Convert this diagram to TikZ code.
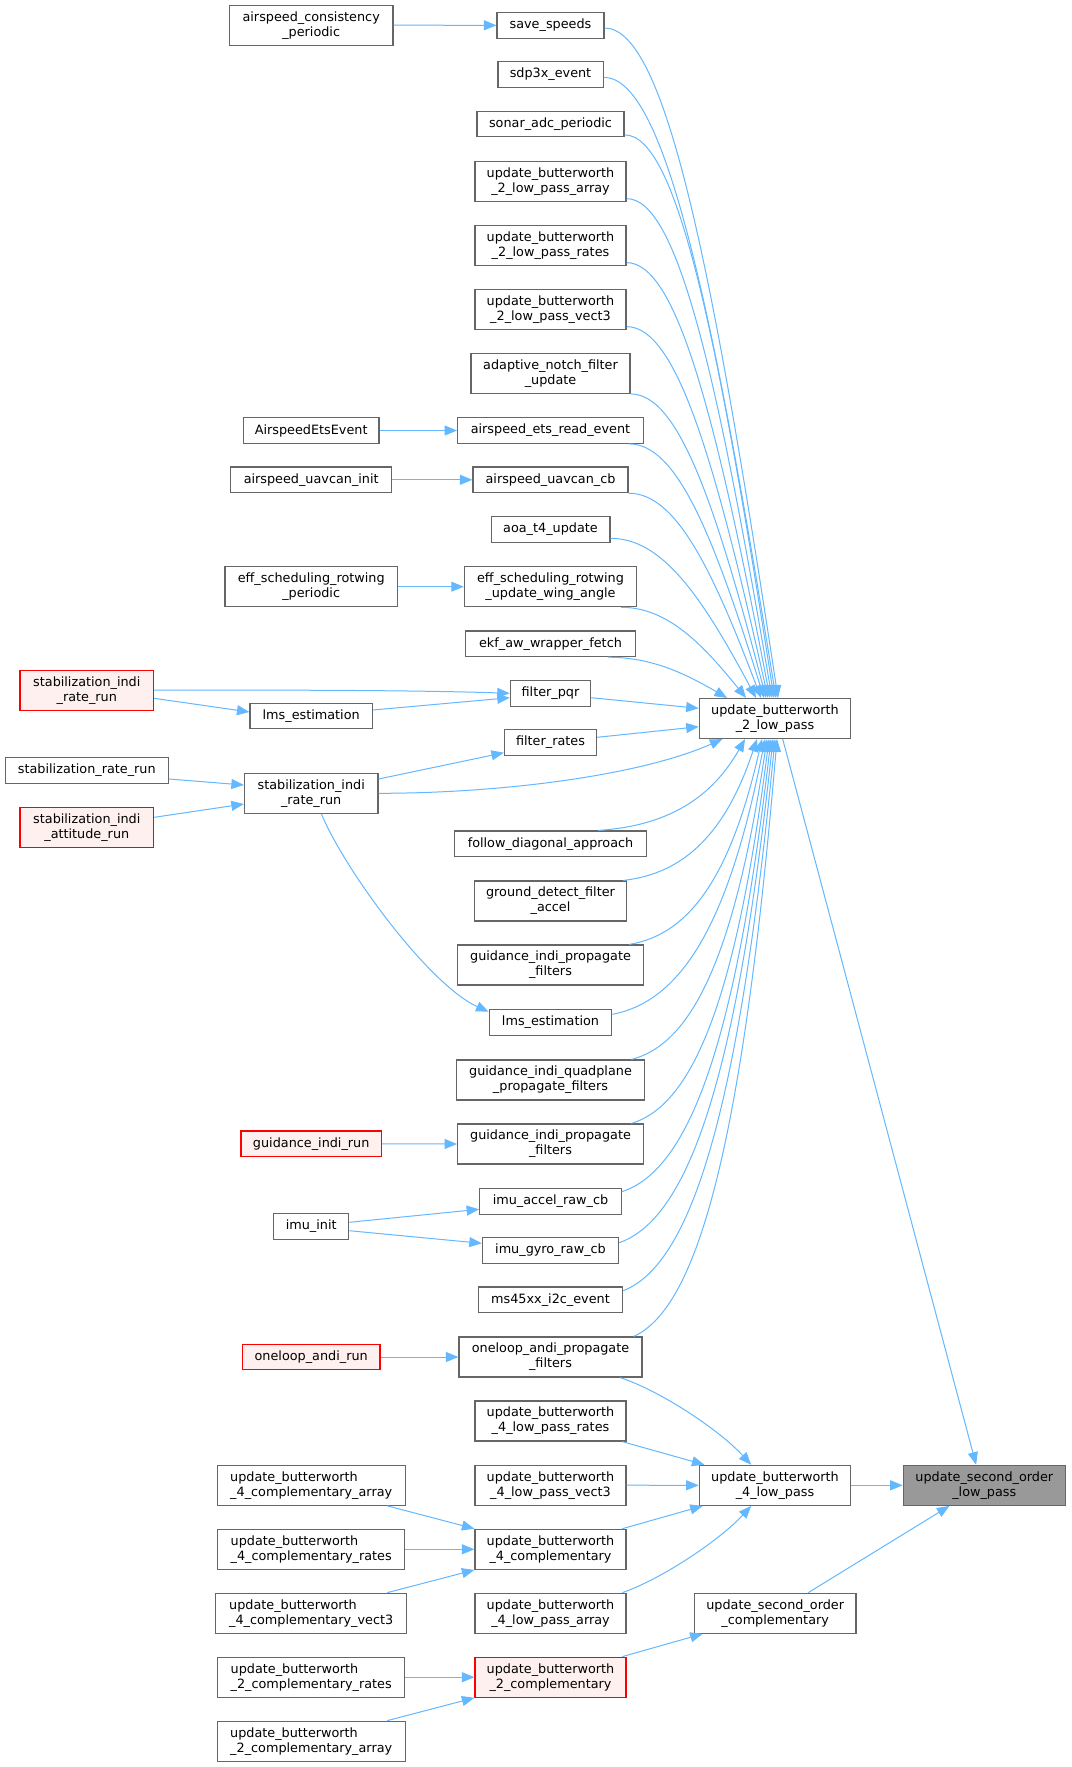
\documentclass[tikz,border=0pt]{standalone}
\usepackage{fontspec}
\setmainfont{DejaVu Sans}
\usetikzlibrary{arrows.meta,calc}
\definecolor{edgeblue}{HTML}{63B8FF}
\definecolor{bordergray}{HTML}{666666}
\definecolor{redfill}{HTML}{FFF0F0}
\definecolor{grayfill}{HTML}{999999}
\tikzset{
  box/.style={draw=bordergray, line width=1.2pt, fill=white, inner sep=0pt, align=center, text=black, font=\fontsize{12.8}{15}\selectfont},
  sone/.style={box, minimum height=25.6pt},
  stwo/.style={box, minimum height=40pt},
  redb/.style={draw=red, fill=redfill},
  grayb/.style={fill=grayfill},
  leftb/.style={align=left},
  edge/.style={draw=edgeblue, line width=1pt, -{Triangle[length=12.5pt,width=10pt]}},
}
\newcommand\fanU[2]{\draw[edge] let \p1=#1, \p2=#2 in (\p1) .. controls ({\x1+0.35*(\x2-(\x1))},{\y1}) and ({\x1+0.62*(\x2-(\x1))},{\y1+0.35*(\y2-(\y1))}) .. (\p2);}
\newcommand\fanL[2]{\draw[edge] let \p1=#1, \p2=#2 in (\p1) .. controls ({\x1+0.47*(\x2-(\x1))},{\y1+0.05*(\y2-(\y1))}) and ({\x1+0.77*(\x2-(\x1))},{\y1+0.35*(\y2-(\y1))}) .. (\p2);}
\begin{document}
\begin{tikzpicture}[x=1pt,y=-1pt]
\useasboundingbox (0,0) rectangle (1071,1767);
\fill[white] (0,0) rectangle (1071,1767);
% nodes
\node[stwo, minimum width=163.4pt] (acp) at (311.2,25.2) {airspeed\_consistency\\\_periodic};
\node[sone, minimum width=107pt] (save) at (550.5,25.3) {save\_speeds};
\node[sone, minimum width=105.2pt] (sdp) at (550.5,74.5) {sdp3x\_event};
\node[sone, minimum width=147pt] (sonar) at (550.5,123.9) {sonar\_adc\_periodic};
\node[stwo, minimum width=151pt] (bwarr) at (550.5,181.3) {update\_butterworth\\\_2\_low\_pass\_array};
\node[stwo, minimum width=151pt] (bwrat) at (550.5,245.3) {update\_butterworth\\\_2\_low\_pass\_rates};
\node[stwo, minimum width=151pt] (bwvec) at (550.5,309.3) {update\_butterworth\\\_2\_low\_pass\_vect3};
\node[stwo, minimum width=159pt] (anf) at (550.5,373.3) {adaptive\_notch\_filter\\\_update};
\node[sone, minimum width=135.7pt] (aee) at (311.2,430.5) {AirspeedEtsEvent};
\node[sone, minimum width=185.7pt] (aere) at (550.5,430.5) {airspeed\_ets\_read\_event};
\node[sone, minimum width=160.7pt] (aui) at (311.2,479.8) {airspeed\_uavcan\_init};
\node[sone, minimum width=155pt] (aucb) at (550.5,479.8) {airspeed\_uavcan\_cb};
\node[sone, minimum width=118.8pt] (aoa) at (550.5,529.3) {aoa\_t4\_update};
\node[stwo, minimum width=172.3pt] (esrp) at (311.2,586.7) {eff\_scheduling\_rotwing\\\_periodic};
\node[stwo, minimum width=172.3pt] (esru) at (550.5,586.7) {eff\_scheduling\_rotwing\\\_update\_wing\_angle};
\node[sone, minimum width=169.7pt] (ekf) at (550.5,643.8) {ekf\_aw\_wrapper\_fetch};
\node[stwo, redb, minimum width=133.6pt] (sirr) at (86.8,690.7) {stabilization\_indi\\\_rate\_run};
\node[sone, minimum width=80.3pt] (fpqr) at (550.5,693.3) {filter\_pqr};
\node[sone, minimum width=122.3pt] (lmsa) at (311.2,716) {lms\_estimation};
\node[sone, minimum width=92pt] (frates) at (550.5,742.5) {filter\_rates};
\node[sone, minimum width=163pt] (srr) at (86.8,770.5) {stabilization\_rate\_run};
\node[stwo, minimum width=133.5pt] (sirw) at (311.2,793.3) {stabilization\_indi\\\_rate\_run};
\node[stwo, redb, minimum width=133.6pt] (siar) at (86.8,827.8) {stabilization\_indi\\\_attitude\_run};
\node[sone, minimum width=192pt] (fda) at (550.5,843.8) {follow\_diagonal\_approach};
\node[stwo, minimum width=151.7pt] (gdfa) at (550.5,901) {ground\_detect\_filter\\\_accel};
\node[stwo, minimum width=185.7pt] (gipfa) at (550.5,965) {guidance\_indi\_propagate\\\_filters};
\node[sone, minimum width=122.7pt] (lmsb) at (550.5,1022.5) {lms\_estimation};
\node[stwo, minimum width=187.5pt] (giqp) at (550.5,1080) {guidance\_indi\_quadplane\\\_propagate\_filters};
\node[sone, redb, minimum width=140.3pt] (gir) at (311.2,1143.8) {guidance\_indi\_run};
\node[stwo, minimum width=185.7pt] (gipfb) at (550.5,1144) {guidance\_indi\_propagate\\\_filters};
\node[sone, minimum width=141.5pt] (imua) at (550.5,1201.3) {imu\_accel\_raw\_cb};
\node[sone, minimum width=75pt] (imui) at (311.2,1226.5) {imu\_init};
\node[sone, minimum width=136.2pt] (imug) at (550.5,1250.5) {imu\_gyro\_raw\_cb};
\node[sone, minimum width=144.2pt] (ms) at (550.5,1299.8) {ms45xx\_i2c\_event};
\node[stwo, minimum width=183pt] (oapf) at (550.5,1357) {oneloop\_andi\_propagate\\\_filters};
\node[sone, redb, minimum width=137.6pt] (oar) at (311.2,1357) {oneloop\_andi\_run};
\node[stwo, minimum width=151pt] (bfrat) at (550.5,1421) {update\_butterworth\\\_4\_low\_pass\_rates};
\node[stwo, leftb, minimum width=188pt] (bfcarr) at (311.2,1485.2) {update\_butterworth\\\_4\_complementary\_array};
\node[stwo, minimum width=151pt] (bfvec) at (550.5,1485.2) {update\_butterworth\\\_4\_low\_pass\_vect3};
\node[stwo, leftb, minimum width=187pt] (bfcrat) at (311.2,1549.3) {update\_butterworth\\\_4\_complementary\_rates};
\node[stwo, minimum width=151pt] (bfc) at (550.5,1549.3) {update\_butterworth\\\_4\_complementary};
\node[stwo, leftb, minimum width=190.7pt] (bfcvec) at (311.2,1613.2) {update\_butterworth\\\_4\_complementary\_vect3};
\node[stwo, minimum width=151pt] (bfarr) at (550.5,1613.2) {update\_butterworth\\\_4\_low\_pass\_array};
\node[stwo, leftb, minimum width=187pt] (btcrat) at (311.2,1677.2) {update\_butterworth\\\_2\_complementary\_rates};
\node[stwo, redb, minimum width=151pt] (btc) at (550.5,1677.2) {update\_butterworth\\\_2\_complementary};
\node[stwo, leftb, minimum width=188pt] (btcarr) at (311.2,1741.2) {update\_butterworth\\\_2\_complementary\_array};
\node[stwo, minimum width=151.4pt] (btlp) at (775,718.5) {update\_butterworth\\\_2\_low\_pass};
\node[stwo, minimum width=151.4pt] (bflp) at (775,1485.3) {update\_butterworth\\\_4\_low\_pass};
\node[stwo, minimum width=161.7pt] (usoc) at (775.2,1613.2) {update\_second\_order\\\_complementary};
\node[stwo, grayb, minimum width=162pt] (usolp) at (984.3,1485.3) {update\_second\_order\\\_low\_pass};
% straight edges
\draw[edge] (acp.east) -- (save.west);
\draw[edge] (aee.east) -- (aere.west);
\draw[edge] (aui.east) -- (aucb.west);
\draw[edge] (esrp.east) -- (esru.west);
\draw[edge] (gir.east) -- (gipfb.west);
\draw[edge] (oar.east) -- (oapf.west);
\draw[edge] ($(sirr.east)+(0,-0.7)$) .. controls +(150,0) and +(-90,-3) .. (fpqr.west);
\draw[edge] ($(sirr.east)+(0,7.6)$) -- ($(lmsa.west)+(0,-4)$);
\draw[edge] ($(lmsa.east)+(0,-6)$) -- ($(fpqr.west)+(0,4.4)$);
\draw[edge] ($(fpqr.east)+(0,4.4)$) -- ($(btlp.west)+(0,-10.2)$);
\draw[edge] ($(frates.east)+(0,-5.2)$) -- ($(btlp.west)+(0,8.2)$);
\draw[edge] ($(srr.east)+(0,8.5)$) -- ($(sirw.west)+(0,-8.3)$);
\draw[edge] ($(siar.east)+(0,-10.5)$) -- ($(sirw.west)+(0,10.7)$);
\draw[edge] ($(sirw.east)+(0,-14.3)$) -- ($(frates.west)+(0,10.2)$);
\draw[edge] (sirw.east) .. controls +(122,0) and +(-83,36.7) .. ($(btlp.south west)+(23.7,0)$);
\draw[edge] ($(sirw.south)+(10.2,0)$) .. controls +(23.6,56.7) and +(-59.3,-26.7) .. ($(lmsb.west)+(0,-10.8)$);
\draw[edge] ($(imui.east)+(0,-4.2)$) -- ($(imua.west)+(0,8)$);
\draw[edge] ($(imui.east)+(0,4.2)$) -- ($(imug.west)+(0,-7.2)$);
% lower section
\draw[edge] ($(oapf.south east)+(-22.5,0)$) .. controls +(40,13) and +(-32,-35) .. ($(bflp.north west)+(52.4,0)$);
\draw[edge] ($(bfrat.south east)+(-4.3,0)$) -- ($(bflp.north west)+(5.7,0)$);
\draw[edge] (bfvec.east) -- (bflp.west);
\draw[edge] ($(bfc.north east)+(-4.3,0)$) -- ($(bflp.south west)+(4,0)$);
\draw[edge] ($(bfarr.north east)+(-4.3,0)$) .. controls +(38,-13) and +(-32,35) .. ($(bflp.south west)+(52.4,0)$);
\draw[edge] (bflp.east) -- (usolp.west);
\draw[edge] ($(btlp.south)+(7.7,0)$) -- ($(usolp.north west)+(73.4,0)$);
\draw[edge] ($(usoc.north)+(33.1,0)$) -- ($(usolp.south west)+(46.7,0)$);
\draw[edge] ($(btc.north east)+(-4.3,0)$) -- ($(usoc.south west)+(9,0)$);
\draw[edge] ($(bfcarr.south east)+(-18.5,0)$) -- (bfc.north west);
\draw[edge] (bfcrat.east) -- (bfc.west);
\draw[edge] ($(bfcvec.north east)+(-19.8,0)$) -- (bfc.south west);
\draw[edge] (btcrat.east) -- (btc.west);
\draw[edge] ($(btcarr.north east)+(-18.5,0)$) -- (btc.south west);
% upper fan
\fanU{($(save.east)+(0,2.7)$)}{($(btlp.north)+(3,0)$)}
\fanU{($(sdp.east)+(0,2.8)$)}{($(btlp.north)+(1,0)$)}
\fanU{($(sonar.south east)+(0,-2.4)$)}{($(btlp.north)+(-1,0)$)}
\fanU{($(bwarr.south east)+(0,-3.3)$)}{($(btlp.north)+(-3,0)$)}
\fanU{($(bwrat.south east)+(0,-3.3)$)}{($(btlp.north)+(-5,0)$)}
\fanU{($(bwvec.south east)+(0,-3.3)$)}{($(btlp.north)+(-7,0)$)}
\fanU{(anf.south east)}{($(btlp.north)+(-9,0)$)}
\fanU{($(aere.south east)+(-14.7,0)$)}{($(btlp.north)+(-11,0)$)}
\fanU{(aucb.south east)}{($(btlp.north)+(-14,0)$)}
\fanU{($(aoa.east)+(0,9)$)}{($(btlp.north)+(-19,0)$)}
\fanU{($(esru.south east)+(-16.2,0)$)}{($(btlp.north)+(-29,0)$)}
\fanU{($(ekf.south east)+(-28.4,0)$)}{($(btlp.north)+(-48,0)$)}
% lower fan
\fanL{($(fda.north east)+(-48.7,0)$)}{($(btlp.south)+(-30,0)$)}
\fanL{($(gdfa.north east)+(-3.6,0)$)}{($(btlp.south)+(-18,0)$)}
\fanL{($(gipfa.north east)+(-14.7,0)$)}{($(btlp.south)+(-13,0)$)}
\fanL{($(lmsb.east)+(0,-8.2)$)}{($(btlp.south)+(-10,0)$)}
\fanL{($(giqp.north east)+(-13.45,0)$)}{($(btlp.south)+(-8,0)$)}
\fanL{($(gipfb.north east)+(-12.6,0)$)}{($(btlp.south)+(-6,0)$)}
\fanL{($(imua.east)+(0,-9.6)$)}{($(btlp.south)+(-4,0)$)}
\fanL{($(imug.east)+(0,-7.8)$)}{($(btlp.south)+(-2,0)$)}
\fanL{($(ms.east)+(0,-9.1)$)}{($(btlp.south)+(0,0)$)}
\fanL{($(oapf.north east)+(-9,0)$)}{($(btlp.south)+(2,0)$)}
\end{tikzpicture}
\end{document}
